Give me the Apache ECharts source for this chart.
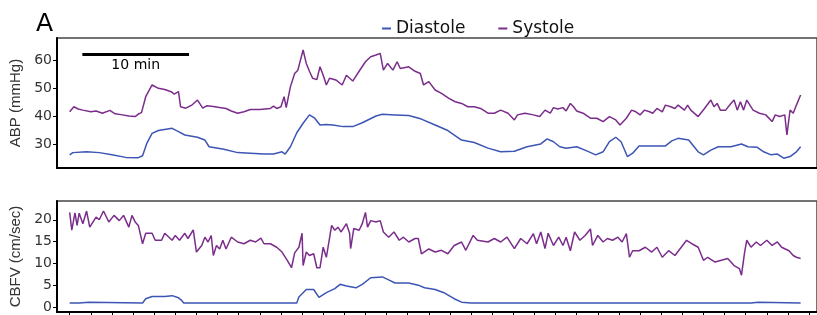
<!DOCTYPE html>
<html>
<head>
<meta charset="utf-8">
<script src="https://cdn.jsdelivr.net/npm/echarts@6/dist/echarts.min.js"></script>
<style>
html,body{margin:0;padding:0;background:#fff}
#main{width:817px;height:315px}
</style>
</head>
<body>
<div id="main"></div>
<script>
// time in minutes
var abpSystole = [[0,41.5],[0.4,43.3],[0.8,42.5],[1.25,42.1],[2.0,41.5],[2.5,41.8],[3.1,41.0],[3.8,42.0],[4.3,40.8],[5.0,40.4],[5.6,40.0],[6.2,39.8],[6.5,40.7],[6.8,41.2],[7.2,46.9],[7.8,51.1],[8.4,49.9],[9.0,49.5],[9.6,48.7],[9.9,47.8],[10.3,48.7],[10.5,43.3],[11.0,42.8],[11.6,44.0],[12.1,45.7],[12.6,42.8],[13.0,43.7],[13.6,43.4],[14.2,43.0],[14.8,42.7],[15.3,41.8],[15.9,41.0],[16.5,41.5],[17.1,42.3],[18.0,42.3],[19.0,42.7],[19.3,43.5],[19.6,42.7],[20.0,43.3],[20.3,46.9],[20.5,43.0],[20.9,50.5],[21.3,55.2],[21.6,56.4],[22.1,63.6],[22.4,58.8],[22.7,56.0],[23.0,53.5],[23.4,53.0],[23.7,57.6],[24.0,54.6],[24.3,51.1],[24.6,53.5],[25.2,52.9],[25.8,51.1],[26.2,54.6],[26.8,52.5],[27.4,56.0],[28.0,59.4],[28.5,61.2],[29.0,61.8],[29.4,62.4],[29.7,56.4],[30.1,58.8],[30.6,56.4],[31.0,59.4],[31.3,57.0],[32.1,57.6],[32.7,56.0],[33.2,55.2],[33.5,51.1],[34.0,52.3],[34.6,49.3],[35.2,48.1],[35.9,46.3],[36.5,45.1],[37.1,44.5],[37.7,43.3],[38.3,43.3],[38.9,42.7],[39.6,41.0],[40.2,41.0],[40.8,42.1],[41.5,41.0],[42.1,38.6],[42.4,40.4],[43.1,41.0],[43.9,40.4],[44.5,39.8],[45.0,42.1],[45.5,41.0],[45.8,43.0],[46.2,42.5],[46.7,43.0],[47.0,41.8],[47.4,44.5],[47.7,43.3],[48.0,41.8],[48.6,41.0],[49.3,39.2],[49.9,39.2],[50.5,38.0],[51.1,39.8],[51.7,38.6],[52.1,36.8],[52.7,39.2],[53.2,42.1],[53.6,41.5],[54.0,40.4],[54.4,42.1],[54.9,41.5],[55.2,41.0],[55.6,42.7],[56.1,41.5],[56.4,43.9],[56.9,43.3],[57.3,42.7],[57.6,43.9],[58.2,42.1],[58.5,43.9],[58.8,42.1],[59.5,39.8],[60.1,42.7],[60.7,45.7],[61.0,43.3],[61.3,44.5],[61.6,42.1],[62.1,42.1],[62.6,44.5],[62.9,45.7],[63.2,42.1],[63.5,45.1],[63.8,42.1],[64.1,45.7],[64.4,43.9],[64.7,42.1],[65.3,41.0],[65.9,40.4],[66.5,38.0],[66.8,40.4],[67.2,39.8],[67.7,40.4],[67.9,33.2],[68.2,42.1],[68.5,41.0],[68.8,43.9],[69.2,47.5]];

var abpDiastole = [[0,26.1],[0.3,26.9],[1.6,27.2],[2.8,26.9],[4.0,26.1],[5.3,25.2],[6.5,25.1],[6.9,25.8],[7.3,30.2],[7.8,33.8],[8.4,34.8],[9.7,35.6],[10.3,34.4],[10.9,33.2],[12.1,32.4],[12.8,31.4],[13.2,29.0],[14.6,28.1],[15.9,26.9],[17.1,26.7],[18.4,26.4],[19.3,26.4],[20.1,27.2],[20.4,26.4],[20.9,29.0],[21.5,34.0],[22.1,37.4],[22.7,40.4],[23.2,39.2],[23.7,36.8],[24.3,37.0],[24.9,36.8],[25.9,36.2],[26.8,36.2],[27.7,37.6],[29.0,40.0],[29.6,40.6],[30.8,40.4],[32.1,40.2],[33.3,38.9],[34.6,36.8],[35.8,34.8],[37.1,31.4],[38.3,30.5],[39.6,28.5],[40.8,27.2],[42.1,27.4],[43.3,29.0],[44.6,30.0],[45.2,31.8],[45.8,30.8],[46.4,29.0],[47.0,28.5],[48.0,29.0],[48.9,27.6],[49.8,26.1],[50.5,27.2],[51.1,30.8],[51.7,32.4],[52.2,30.8],[52.8,25.5],[53.3,26.7],[53.9,29.3],[55.1,29.3],[56.4,29.3],[57.0,31.1],[57.6,32.0],[58.6,31.4],[59.5,27.2],[60.0,26.1],[60.7,27.8],[61.4,29.0],[62.6,29.0],[63.6,30.0],[64.2,29.0],[65.1,28.8],[65.7,27.2],[66.4,26.1],[67.0,26.4],[67.6,24.9],[68.2,25.5],[68.8,27.2],[69.2,29.0]];

var cbfvSystole = [[0,21.7],[0.2,17.6],[0.5,21.6],[0.7,18.7],[0.9,21.5],[1.25,19.1],[1.6,22.0],[1.9,18.3],[2.5,20.6],[2.8,20.0],[3.2,22.0],[3.7,19.5],[4.2,21.0],[4.7,19.8],[5.1,21.0],[5.6,18.3],[5.9,21.0],[6.2,19.5],[6.5,18.7],[6.9,14.5],[7.2,16.9],[7.8,16.9],[8.1,15.3],[8.7,15.3],[9.0,16.9],[9.7,15.3],[10.0,16.4],[10.4,15.3],[10.9,16.9],[11.2,15.7],[11.7,17.7],[12.0,12.6],[12.5,14.1],[12.8,16.0],[13.1,14.9],[13.4,16.4],[13.6,11.8],[13.9,14.1],[14.2,13.3],[14.5,15.3],[14.8,13.3],[15.3,16.0],[15.9,14.9],[16.5,14.5],[17.1,15.3],[17.6,14.9],[18.1,15.8],[18.4,14.5],[19.0,14.5],[19.6,13.7],[20.1,12.6],[20.6,10.7],[21.0,9.0],[21.3,12.4],[21.7,13.7],[22.0,16.9],[22.1,9.5],[22.4,12.6],[22.7,11.8],[23.1,12.2],[23.4,9.0],[23.7,9.0],[24.0,13.7],[24.3,11.4],[24.8,18.7],[25.1,17.6],[25.4,18.3],[25.7,17.2],[26.2,19.1],[26.5,16.9],[26.6,13.4],[26.9,18.0],[27.4,17.6],[27.7,19.1],[28.0,21.7],[28.2,18.3],[28.5,19.8],[29.0,19.5],[29.4,19.8],[29.7,17.2],[30.2,16.0],[30.7,17.2],[31.2,15.3],[31.6,16.0],[32.1,14.9],[32.7,15.7],[33.0,15.7],[33.3,12.2],[34.0,13.3],[34.6,12.6],[35.2,13.0],[35.8,12.2],[36.4,14.1],[37.1,14.9],[37.5,13.0],[38.2,16.4],[38.6,15.3],[39.6,14.9],[40.2,15.7],[40.8,14.9],[41.4,16.0],[42.1,13.4],[42.7,15.7],[43.3,14.5],[43.9,16.8],[44.2,14.5],[44.6,17.2],[45.0,13.4],[45.3,16.9],[45.8,14.1],[46.3,16.0],[46.7,14.1],[47.0,16.0],[47.4,12.9],[47.8,17.2],[48.3,15.3],[48.8,16.4],[49.3,17.9],[49.5,14.1],[50.0,16.4],[50.5,14.9],[50.9,15.7],[51.4,15.3],[51.9,16.0],[52.3,14.9],[52.7,16.8],[53.0,11.4],[53.3,12.9],[53.9,12.9],[54.5,13.7],[55.1,12.6],[55.6,13.7],[56.1,11.4],[56.7,12.9],[57.3,11.8],[57.9,13.7],[58.4,15.3],[58.9,14.5],[59.5,13.7],[60.0,10.7],[60.4,11.4],[61.1,10.3],[61.7,10.7],[62.3,11.1],[62.9,9.5],[63.4,8.8],[63.6,7.3],[63.9,12.6],[64.1,15.3],[64.5,13.7],[65.0,14.9],[65.4,14.1],[66.0,15.3],[66.5,14.1],[67.0,14.9],[67.4,13.7],[68.1,12.9],[68.5,11.8],[68.8,11.4],[69.2,11.1]];

var cbfvDiastole = [[0,0.9],[0.9,0.9],[1.0,1.1],[1.8,1.1],[1.9,0.9],[6.9,0.9],[7.2,1.9],[7.8,2.4],[9.0,2.4],[9.7,2.6],[10.3,2.1],[10.6,1.5],[10.8,0.9],[21.5,0.9],[21.7,2.3],[22.4,4.0],[23.1,4.0],[23.6,2.2],[24.3,3.3],[25.1,4.2],[25.6,5.2],[26.2,4.8],[27.1,4.4],[27.7,5.2],[28.5,6.7],[29.6,6.9],[30.2,6.2],[30.8,5.5],[32.1,5.5],[33.0,5.0],[33.6,4.4],[34.6,4.0],[35.5,3.2],[36.4,1.9],[37.1,1.1],[38.0,0.9],[64.5,0.9],[64.6,1.1],[65.2,1.1],[65.3,0.9],[69.2,0.9]];

var abpTicks = [30, 40, 50, 60];
var cbfvTicks = [0, 5, 10, 15, 20];
var minorTimeTicks = [0,2,4,6,8,10,12,14,16,18,20,22,24,26,28,30,32,34,36,38,40,42,44,46,48,50,52,54,56,58,60,62,64,66,68,70];
var majorTimeTicks = [0, 10, 20, 30, 40, 50, 60, 70];
var scaleBarStart = [1.2, 62.0];
var scaleBarEnd = [11.3, 62.0];

var fontFam = 'DejaVu Sans';
var blue = '#3d55b4';
var purple = '#7b2d8b';

var chart = echarts.init(document.getElementById('main'));

function xAx(grid, extra) {
    var a = {
        gridIndex: grid, type: 'value', min: -1.2, max: 70.75,
        position: 'bottom', offset: 0,
        splitLine: {show: false},
        axisLabel: {show: false},
        axisTick: {show: false},
        axisLine: {show: true, onZero: false, lineStyle: {color: '#000', width: 2}}
    };
    for (var k in extra) a[k] = extra[k];
    return a;
}

function yAx(grid, lo, hi, ticks, name) {
    return {
        gridIndex: grid, type: 'value', min: lo, max: hi,
        splitLine: {show: false},
        axisLine: {show: true, onZero: false, lineStyle: {color: '#000', width: 2}},
        axisTick: {show: true, length: 4, customValues: ticks, lineStyle: {color: '#000'}},
        axisLabel: {customValues: ticks, margin: 5, color: '#333', fontSize: 14, fontFamily: fontFam},
        name: name, nameLocation: 'middle', nameRotate: 90, nameGap: 32,
        nameTextStyle: {color: '#333', fontSize: 15, fontFamily: 'Liberation Sans'}
    };
}

function line(name, color, x, y, data) {
    return {
        name: name, type: 'line', xAxisIndex: x, yAxisIndex: y, data: data,
        showSymbol: false, symbol: 'none', color: color,
        lineStyle: {color: color, width: 1.5},
        emphasis: {disabled: true}
    };
}

var abpSys = line('Systole', purple, 0, 0, abpSystole);
abpSys.markLine = {
    silent: true,
    symbol: ['none', 'none'],
    lineStyle: {color: '#000', width: 3, type: 'solid'},
    label: {show: true, formatter: '10 min', position: 'insideMiddleBottom', distance: 4,
        color: '#000', fontSize: 14, fontFamily: fontFam},
    data: [[{coord: scaleBarStart}, {coord: scaleBarEnd}]]
};

var option = {
    animation: false,
    title: {
        text: 'A', left: 31, top: 7,
        textStyle: {fontSize: 25, fontWeight: 'normal', color: '#000', fontFamily: fontFam}
    },
    legend: {
        data: ['Diastole', 'Systole'],
        left: 377, top: 15,
        icon: 'rect', itemWidth: 9, itemHeight: 2, itemGap: 33,
        textStyle: {fontSize: 17, color: '#111', fontFamily: fontFam}
    },
    grid: [
        {left: 57, right: -10, top: 38, height: 130, show: true, borderColor: '#444', borderWidth: 1.5},
        {left: 57, right: -10, top: 201, height: 111, show: true, borderColor: '#444', borderWidth: 1.5}
    ],
    xAxis: [
        xAx(0, {}),
        xAx(1, {axisTick: {show: true, length: 4, customValues: minorTimeTicks, lineStyle: {color: '#000'}}}),
        xAx(1, {axisLine: {show: false, onZero: false},
            axisTick: {show: true, length: 7, customValues: majorTimeTicks, lineStyle: {color: '#000'}}})
    ],
    yAxis: [
        yAx(0, 21.4, 67.9, abpTicks, 'ABP (mmHg)'),
        yAx(1, -1.15, 24.3, cbfvTicks, 'CBFV (cm/sec)')
    ],
    series: [
        line('Diastole', blue, 0, 0, abpDiastole),
        abpSys,
        line('Diastole', blue, 1, 1, cbfvDiastole),
        line('Systole', purple, 1, 1, cbfvSystole)
    ]
};

chart.setOption(option);
</script>
</body>
</html>
